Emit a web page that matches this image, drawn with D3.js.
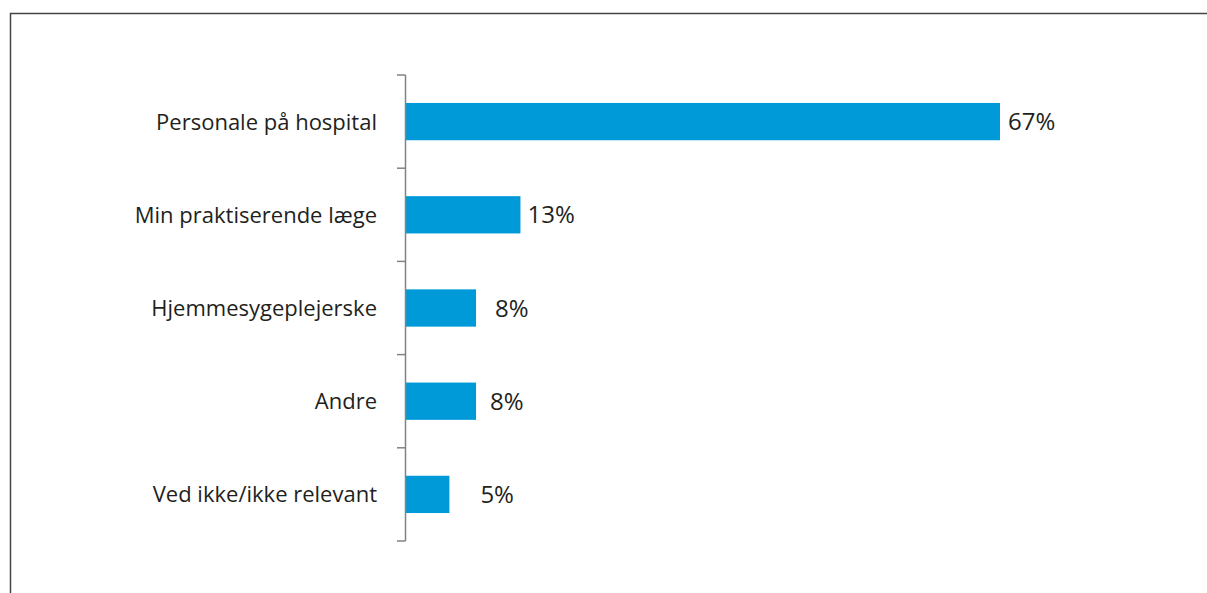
<!DOCTYPE html>
<html>
<head>
<meta charset="utf-8">
<script src="https://cdn.jsdelivr.net/npm/d3@7"></script>
<style>
  html, body { margin: 0; padding: 0; background: #fff; }
  svg text { font-family: "Open Sans", "Noto Sans", sans-serif; fill: #231f20; }
</style>
</head>
<body>
<div id="chart"></div>
<script>
// data
var categories = ["Personale på hospital", "Min praktiserende læge", "Hjemmesygeplejerske", "Andre", "Ved ikke/ikke relevant"];
var values = [67, 13, 8, 8, 5];
var valueLabels = ["67%", "13%", "8%", "8%", "5%"];
// extra space between bar end and its label, as placed in the original
var labelGap = [8, 7, 19, 14, 31];

var W = 1207, H = 593;
var margin = {top: 75, left: 405};
var plotH = 541 - 75;

var svg = d3.select("#chart")
  .append("svg")
  .attr("width", W)
  .attr("height", H);

// frame (only top and left edges are in view)
svg.append("path")
  .attr("d", "M10.5," + H + "V13.5H" + W)
  .attr("fill", "none")
  .attr("stroke", "#444")
  .attr("stroke-width", 1.5);

var g = svg.append("g")
  .attr("transform", "translate(" + margin.left + "," + margin.top + ")");

var x = d3.scaleLinear()
  .domain([0, 67])
  .range([0, 595]);

var y = d3.scaleBand()
  .domain(categories)
  .range([0, plotH])
  .paddingInner(0.6)
  .paddingOuter(0.3);

var yTicks = d3.scaleBand().domain(categories).range([0, plotH]);

// bars
g.selectAll(".bar")
  .data(values)
  .enter()
  .append("rect")
  .attr("x", 1)
  .attr("y", function(d, i){ return y(categories[i]) })
  .attr("width", function(d){ return x(d) - 1 })
  .attr("height", y.bandwidth())
  .attr("fill", "#009ad9");

// axis line with ticks between bands
var tickPos = categories.map(function(c){ return yTicks(c) }).concat([plotH]);
g.append("line")
  .attr("x1", 0.5).attr("x2", 0.5)
  .attr("y1", 0).attr("y2", plotH)
  .attr("stroke", "#808285")
  .attr("stroke-width", 1.5);
g.selectAll(".tick")
  .data(tickPos)
  .enter()
  .append("line")
  .attr("x1", -8).attr("x2", 0.5)
  .attr("y1", function(d){ return d }).attr("y2", function(d){ return d })
  .attr("stroke", "#808285")
  .attr("stroke-width", 1.5);

// category labels
g.selectAll(".cat")
  .data(categories)
  .enter()
  .append("text")
  .attr("x", -28)
  .attr("y", function(d){ return y(d) + y.bandwidth() / 2 })
  .attr("dy", "0.36em")
  .attr("text-anchor", "end")
  .style("font-size", "22px")
  .text(function(d){ return d });

// value labels
g.selectAll(".val")
  .data(values)
  .enter()
  .append("text")
  .attr("x", function(d, i){ return x(d) + labelGap[i] })
  .attr("y", function(d, i){ return y(categories[i]) + y.bandwidth() / 2 })
  .attr("dy", "0.36em")
  .style("font-size", "24px")
  .text(function(d, i){ return valueLabels[i] });
</script>
</body>
</html>
